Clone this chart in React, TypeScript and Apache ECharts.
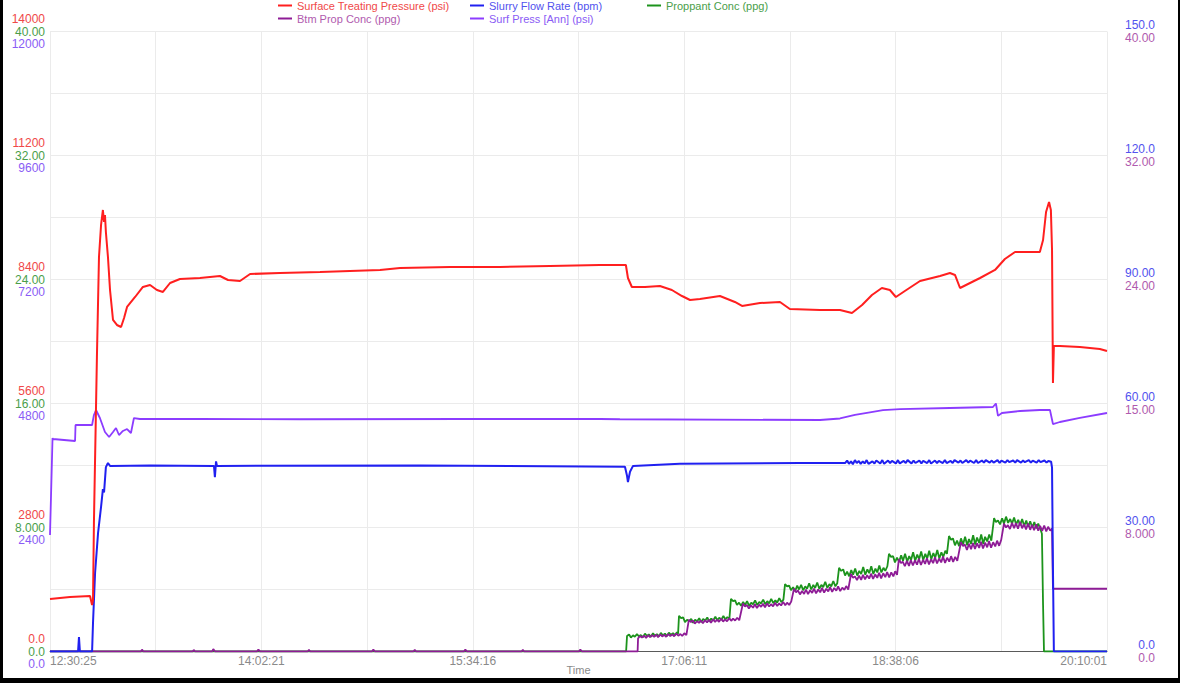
import React, { useEffect, useRef } from 'react';
import * as echarts from 'echarts';

const FONT = '"Liberation Sans", Arial, Helvetica, sans-serif';

// elapsed minutes from 12:30:25
const timeMax = 459.6;
const timeInterval = 91.92;
const timeTickLabels = ['12:30:25', '14:02:21', '15:34:16', '17:06:11', '18:38:06', '20:10:01'];

const stpTickLabels = ['0.0', '2800', '5600', '8400', '11200', '14000'];
const propTickLabels = ['0.0', '8.000', '16.00', '24.00', '32.00', '40.00'];
const annTickLabels = ['0.0', '2400', '4800', '7200', '9600', '12000'];
const rateTickLabels = ['0.0', '30.00', '60.00', '90.00', '120.0', '150.0'];
const btmTickLabels = ['0.0', '8.000', '15.00', '24.00', '32.00', '40.00'];

const seriesNames = [
  'Surface Treating Pressure (psi)',
  'Slurry Flow Rate (bpm)',
  'Proppant Conc (ppg)',
  'Btm Prop Conc (ppg)',
  'Surf Press [Ann] (psi)',
];

// Surface Treating Pressure (psi): [minutes, value]
const stpData: [number, number][] = [
  [0, 1186], [8.7, 1231], [17.4, 1253], [18.3, 1050], [18.7, 1163], [19.1, 2902], [20.4, 6650],
  [21.3, 8908], [22.2, 9631], [23.0, 9970], [23.5, 9700], [23.9, 9857], [24.3, 9473], [25.2, 8908],
  [26.1, 8163], [27.4, 7486], [29.1, 7373], [30.9, 7327], [32.2, 7531], [33.5, 7780], [37.0, 8005],
  [40.4, 8231], [43.5, 8276], [46.5, 8163], [49.1, 8118], [52.2, 8321], [56.5, 8412], [65.2, 8434],
  [73.9, 8479], [77.4, 8389], [82.6, 8366], [87.0, 8524], [100.0, 8547], [117.4, 8569], [130.4, 8592],
  [143.5, 8615], [152.2, 8660], [173.9, 8682], [195.7, 8682], [217.4, 8705], [239.1, 8727], [250.4, 8727],
  [251.3, 8434], [253.0, 8231], [258.7, 8231], [265.2, 8253], [270.4, 8163], [274.8, 8027], [278.3, 7937],
  [282.6, 7960], [291.3, 8027], [297.8, 7892], [300.9, 7802], [308.7, 7869], [317.4, 7892], [321.7, 7734],
  [334.8, 7711], [343.5, 7711], [348.7, 7644], [353.1, 7824], [357.4, 8050], [361.7, 8208], [365.2, 8163],
  [367.8, 8005], [371.7, 8140], [378.3, 8366], [387.0, 8479], [391.3, 8547], [393.5, 8502], [395.7, 8208],
  [398.3, 8276], [404.4, 8434], [410.9, 8615], [415.2, 8863], [419.6, 9021], [426.1, 9021], [430.4, 9021],
  [431.8, 9292], [433.1, 9924], [434.4, 10150], [435.2, 9970], [435.7, 9066], [436.1, 6062], [436.5, 6898],
  [439.1, 6898], [447.8, 6876], [456.5, 6831], [459.6, 6786],
];

// Slurry Flow Rate (bpm)
const rateData: [number, number][] = [
  [0, 0], [12.2, 0], [12.6, 3.5], [13.0, 0], [18.3, 0], [18.7, 6.9], [19.6, 19.0], [20.9, 28.7],
  [22.2, 35.0], [23.0, 39.3], [23.5, 38.5], [24.3, 44.6], [25.2, 45.6], [26.1, 44.9], [43.5, 45.0],
  [71.3, 44.9], [71.7, 42.2], [72.2, 46.0], [72.6, 44.9], [160.9, 45.0], [250.0, 44.7], [250.9, 42.5],
  [251.3, 41.0], [252.2, 43.5], [253.5, 44.9], [273.9, 45.4], [326.1, 45.6],
  [345.7, 45.6], [346.6, 46.2], [347.4, 45.4], [348.3, 46.0], [349.1, 45.3], [350.0, 46.3], [350.8, 45.6],
  [351.7, 46.1], [352.5, 45.4], [353.4, 46.0], [354.2, 45.5], [355.1, 46.3], [355.9, 45.4], [357.6, 46.0],
  [358.5, 45.5], [359.3, 46.2], [361.0, 45.5], [361.9, 46.3], [362.7, 45.4], [364.4, 46.2], [365.3, 45.6],
  [366.1, 46.1], [367.8, 45.5], [368.7, 46.3], [369.5, 45.5], [371.2, 46.1], [372.1, 45.6], [372.9, 46.3],
  [374.6, 45.5], [375.5, 46.2], [376.3, 45.6], [378.0, 46.2], [378.9, 45.5], [379.7, 46.1], [381.4, 45.6],
  [382.3, 46.3], [383.1, 45.5], [384.8, 46.2], [385.7, 45.6], [386.5, 46.1], [388.2, 45.6], [389.1, 46.3],
  [389.9, 45.6], [391.6, 46.1], [392.5, 45.6], [393.3, 46.3], [395.0, 45.7], [395.9, 46.2], [396.7, 45.6],
  [398.4, 46.3], [399.3, 45.7], [400.1, 46.2], [401.8, 45.6], [402.7, 46.3], [403.5, 45.6], [405.2, 46.2],
  [406.1, 45.7], [406.9, 46.3], [408.6, 45.7], [409.5, 46.2], [410.3, 45.7], [412.0, 46.3], [412.9, 45.6],
  [413.7, 46.2], [415.4, 45.7], [416.3, 46.3], [417.1, 45.8], [418.8, 46.2], [419.7, 45.7], [420.5, 46.3],
  [422.2, 45.7], [423.1, 46.2], [423.9, 45.8], [425.6, 46.3], [426.5, 45.7], [427.3, 46.2], [429.0, 45.7],
  [429.9, 46.3], [430.7, 45.8], [432.4, 46.2], [433.3, 45.7], [434.1, 46.1], [435.3, 45.9], [435.7, 44.5],
  [436.1, 20], [436.5, 0], [459.6, 0],
];

// Proppant Conc (ppg)
const propData: [number, number][] = [
  [0, 0], [250.5, 0],
  [250.9, 1.0], [251.8, 1.1], [252.6, 0.9], [253.5, 1.05], [254.3, 0.95], [255.2, 1.12], [256.1, 0.98],
  [256.9, 1.06], [257.8, 0.92], [258.7, 1.15], [259.6, 1.0], [260.4, 1.1], [261.3, 0.95], [262.2, 1.18],
  [263.0, 1.02], [263.9, 1.12], [264.8, 0.98], [265.6, 1.2], [266.5, 1.05], [267.4, 1.15], [268.3, 1.0],
  [269.1, 1.22], [270.0, 1.08], [270.9, 1.18], [271.7, 1.05], [272.6, 1.25], [273.1, 1.15],
  [273.5, 2.3], [274.4, 2.15], [275.3, 2.2], [276.1, 1.9], [277.0, 2.05], [277.9, 1.95], [278.8, 2.1],
  [279.6, 1.85], [280.5, 2.05], [281.4, 1.95], [282.3, 2.15], [283.1, 1.9], [284.0, 2.1], [284.9, 2.0],
  [285.8, 2.2], [286.6, 1.95], [287.5, 2.12], [288.4, 2.0], [289.3, 2.25], [290.1, 2.02], [291.0, 2.18],
  [291.9, 2.05], [292.8, 2.3], [293.6, 2.08], [294.5, 2.22], [295.4, 2.1],
  [296.1, 3.4], [297.0, 3.25], [297.9, 3.3], [298.7, 3.0], [299.6, 3.15], [300.5, 2.95], [301.4, 3.2],
  [302.2, 3.0], [303.1, 3.25], [304.0, 2.95], [304.9, 3.15], [305.7, 3.05], [306.6, 3.3], [307.5, 3.0],
  [308.4, 3.2], [309.2, 3.1], [310.1, 3.35], [311.0, 3.05], [311.9, 3.25], [312.7, 3.1], [313.6, 3.4],
  [314.5, 3.12], [315.4, 3.3], [316.2, 3.15], [317.1, 3.45], [318.0, 3.18], [318.9, 3.35],
  [319.6, 4.35], [320.5, 4.2], [321.4, 4.25], [322.2, 3.95], [323.1, 4.15], [324.0, 3.9], [324.9, 4.25],
  [325.7, 4.0], [326.6, 4.3], [327.5, 3.95], [328.4, 4.2], [329.2, 4.05], [330.1, 4.4], [331.0, 4.0],
  [331.9, 4.3], [332.7, 4.1], [333.6, 4.45], [334.5, 4.05], [335.4, 4.3], [336.2, 4.15], [337.1, 4.5],
  [338.0, 4.1], [338.9, 4.35], [339.7, 4.2], [340.6, 4.55], [341.5, 4.2], [342.3, 4.4],
  [343.1, 5.4], [344.0, 5.2], [344.9, 5.3], [345.7, 4.9], [346.6, 5.15], [347.5, 4.85], [348.4, 5.25],
  [349.2, 4.95], [350.1, 5.35], [351.0, 4.9], [351.9, 5.2], [352.7, 5.0], [353.6, 5.45], [354.5, 4.95],
  [355.4, 5.3], [356.2, 5.05], [357.1, 5.5], [358.0, 5.0], [358.9, 5.35], [359.7, 5.1], [360.6, 5.55],
  [361.5, 5.1], [362.4, 5.4], [363.2, 5.2], [364.1, 5.5],
  [364.8, 6.3], [365.7, 6.1], [366.6, 6.15], [367.4, 5.75], [368.3, 6.05], [369.2, 5.8], [370.1, 6.2],
  [370.9, 5.85], [371.8, 6.3], [372.7, 5.8], [373.6, 6.15], [374.4, 5.9], [375.3, 6.4], [376.2, 5.85],
  [377.1, 6.25], [377.9, 5.95], [378.8, 6.45], [379.7, 5.9], [380.6, 6.3], [381.4, 6.0], [382.3, 6.5],
  [383.2, 5.95], [384.1, 6.35], [384.9, 6.05], [385.8, 6.55], [386.7, 6.0], [387.6, 6.4], [388.4, 6.1],
  [389.3, 6.5], [390.0, 6.3],
  [390.9, 7.45], [391.8, 7.2], [392.6, 7.3], [393.5, 6.85], [394.4, 7.15], [395.3, 6.8], [396.1, 7.3],
  [397.0, 6.9], [397.9, 7.4], [398.8, 6.85], [399.6, 7.25], [400.5, 6.95], [401.4, 7.5], [402.3, 6.9],
  [403.1, 7.35], [404.0, 7.0], [404.9, 7.55], [405.8, 6.95], [406.6, 7.4], [407.5, 7.1], [408.4, 7.55],
  [409.3, 7.15],
  [410.5, 8.6], [411.3, 8.35], [412.2, 8.45], [413.1, 8.2], [414.0, 8.6], [414.8, 8.25], [415.7, 8.7],
  [416.6, 8.3], [417.5, 8.55], [418.3, 8.25], [419.2, 8.65], [420.1, 8.2], [421.0, 8.5], [421.8, 8.15],
  [422.7, 8.55], [423.6, 8.1], [424.5, 8.45], [425.3, 8.05], [426.2, 8.4], [427.1, 8.0], [428.0, 8.35],
  [428.8, 7.95], [429.7, 8.25], [430.6, 7.9], [431.3, 7.6], [431.8, 3.0], [432.2, 0], [459.6, 0],
];

// Btm Prop Conc (ppg)
const btmData: [number, number][] = [
  [0, 0], [39.5, 0], [40.0, 0.12], [40.6, 0], [62.0, 0], [62.5, 0.1], [63.1, 0], [70.5, 0], [71.0, 0.15],
  [71.8, 0], [90.0, 0], [90.6, 0.12], [91.4, 0], [112.0, 0], [112.6, 0.1], [113.2, 0], [140.0, 0],
  [140.6, 0.12], [141.3, 0], [158.0, 0], [158.6, 0.1], [159.2, 0], [180.0, 0], [180.6, 0.12], [181.3, 0],
  [205.0, 0], [205.6, 0.1], [206.2, 0], [230.0, 0], [230.6, 0.12], [231.3, 0], [255.5, 0],
  [255.7, 0.85], [256.6, 1.0], [257.4, 0.9], [258.3, 1.02], [259.2, 0.88], [260.1, 1.05], [260.9, 0.92],
  [261.8, 1.06], [262.7, 0.95], [263.6, 1.08], [264.4, 0.93], [265.3, 1.1], [266.2, 0.97], [267.1, 1.08],
  [267.9, 0.95], [268.8, 1.12], [269.7, 1.0], [270.6, 1.1], [271.4, 0.98], [272.3, 1.15], [273.2, 1.02],
  [274.1, 1.13], [274.9, 1.0], [275.8, 1.18], [276.7, 1.06],
  [277.8, 2.05], [278.7, 1.9], [279.5, 2.0], [280.4, 1.8], [281.3, 1.95], [282.2, 1.85], [283.0, 2.0],
  [283.9, 1.82], [284.8, 2.02], [285.7, 1.88], [286.5, 2.05], [287.4, 1.85], [288.3, 2.08], [289.2, 1.9],
  [290.0, 2.05], [290.9, 1.92], [291.8, 2.12], [292.7, 1.93], [293.5, 2.08], [294.4, 1.95], [295.3, 2.15],
  [296.2, 1.98], [297.0, 2.12], [297.9, 2.0], [298.8, 2.18], [299.7, 2.02],
  [301.3, 3.1], [302.2, 2.9], [303.0, 3.0], [303.9, 2.78], [304.8, 2.98], [305.7, 2.82], [306.5, 3.05],
  [307.4, 2.8], [308.3, 3.02], [309.2, 2.88], [310.0, 3.08], [310.9, 2.85], [311.8, 3.1], [312.7, 2.9],
  [313.5, 3.05], [314.4, 2.92], [315.3, 3.15], [316.2, 2.93], [317.0, 3.1], [317.9, 2.97], [318.8, 3.2],
  [319.7, 2.98], [320.5, 3.15], [321.4, 3.0], [322.3, 3.22],
  [323.5, 4.05], [324.4, 3.82], [325.2, 3.95], [326.1, 3.68], [327.0, 3.9], [327.9, 3.72], [328.7, 4.0],
  [329.6, 3.7], [330.5, 3.95], [331.4, 3.78], [332.2, 4.05], [333.1, 3.75], [334.0, 4.0], [334.9, 3.82],
  [335.7, 4.1], [336.6, 3.8], [337.5, 4.05], [338.4, 3.88], [339.2, 4.15], [340.1, 3.85], [341.0, 4.1],
  [341.9, 3.92], [342.7, 4.2], [343.6, 3.9], [344.5, 4.12], [345.4, 3.98], [346.2, 4.22], [347.1, 4.0],
  [348.3, 5.0], [349.2, 4.75], [350.0, 4.85], [350.9, 4.6], [351.8, 4.9], [352.7, 4.62], [353.5, 4.95],
  [354.4, 4.65], [355.3, 4.92], [356.2, 4.7], [357.0, 5.02], [357.9, 4.68], [358.8, 4.98], [359.7, 4.75],
  [360.5, 5.08], [361.4, 4.72], [362.3, 5.05], [363.2, 4.8], [364.0, 5.12], [364.9, 4.78], [365.8, 5.1],
  [366.7, 4.85], [367.5, 5.18], [368.3, 4.95],
  [369.1, 5.95], [370.0, 5.7], [370.8, 5.8], [371.7, 5.5], [372.6, 5.85], [373.5, 5.52], [374.3, 5.9],
  [375.2, 5.55], [376.1, 5.88], [377.0, 5.6], [377.8, 5.98], [378.7, 5.58], [379.6, 5.92], [380.5, 5.65],
  [381.3, 6.02], [382.2, 5.62], [383.1, 5.95], [384.0, 5.7], [384.8, 6.08], [385.7, 5.68], [386.6, 6.0],
  [387.5, 5.75], [388.3, 6.12], [389.2, 5.72], [390.1, 6.05], [391.0, 5.8], [391.8, 6.15], [392.7, 5.78],
  [393.6, 6.1], [394.5, 5.85],
  [396.1, 7.05], [397.0, 6.8], [397.8, 6.9], [398.7, 6.55], [399.6, 6.95], [400.5, 6.6], [401.3, 7.0],
  [402.2, 6.62], [403.1, 6.98], [404.0, 6.68], [404.8, 7.08], [405.7, 6.65], [406.6, 7.02], [407.5, 6.72],
  [408.3, 7.12], [409.2, 6.7], [410.1, 7.05], [411.0, 6.78], [411.8, 7.15], [412.7, 6.82], [413.6, 7.2],
  [414.8, 8.25], [415.7, 8.0], [416.5, 8.15], [417.4, 7.9], [418.3, 8.3], [419.2, 7.95], [420.0, 8.28],
  [420.9, 7.92], [421.8, 8.35], [422.7, 7.95], [423.5, 8.22], [424.4, 7.88], [425.3, 8.25], [426.2, 7.85],
  [427.0, 8.18], [427.9, 7.82], [428.8, 8.2], [429.7, 7.8], [430.5, 8.1], [431.4, 7.78], [432.3, 8.12],
  [433.2, 7.75], [434.0, 8.05], [434.9, 7.8], [435.7, 7.95], [436.1, 4.05], [459.6, 4.05],
];

// Surf Press [Ann] (psi)
const annData: [number, number][] = [
  [0, 2255], [1.1, 4132], [1.3, 4113], [10.9, 4074], [11.1, 4384], [18.3, 4384], [19.1, 4577], [20.0, 4674],
  [21.7, 4519], [23.9, 4248], [25.7, 4152], [27.4, 4248], [28.7, 4326], [30.0, 4190], [31.7, 4268],
  [33.5, 4306], [35.2, 4229], [36.5, 4519], [39.1, 4500], [65.2, 4500], [108.7, 4495], [180.0, 4500],
  [239.1, 4500], [247.8, 4495], [334.8, 4481], [343.5, 4510], [350.0, 4580], [356.5, 4630], [362.2, 4670],
  [369.6, 4690], [391.3, 4713], [410.0, 4732], [411.3, 4800], [412.2, 4560], [413.9, 4616], [421.8, 4655],
  [430.4, 4674], [434.8, 4674], [436.1, 4403], [439.1, 4442], [447.8, 4520], [459.6, 4616],
];

const C = {
  stp: '#ff1f1f', stpText: '#f04848',
  rate: '#2020f0', rateText: '#5252ee',
  prop: '#1c931c', propText: '#4a9e4a',
  btm: '#8e1c96', btmText: '#b05aae',
  ann: '#8c3cff', annText: '#8a5cf5',
};

function yAxisDef(max: number, labels: string[], color: string, side: 'left' | 'right', shift: number, grid = false) {
  const interval = max / 5;
  const valign = shift < 0 ? 'bottom' : shift > 0 ? 'top' : 'middle';
  const lh = shift === 0 ? 14 : Math.abs(shift) * 2;
  return {
    type: 'value',
    position: side,
    min: 0,
    max,
    interval,
    axisLine: { show: false },
    axisTick: { show: false },
    splitLine: { show: grid, lineStyle: { color: '#ebebeb', width: 1 } },
    minorTick: { show: false, splitNumber: 2 },
    minorSplitLine: { show: grid, lineStyle: { color: '#ebebeb', width: 1 } },
    axisLabel: {
      color,
      fontSize: 12,
      fontFamily: FONT,
      margin: side === 'left' ? 5 : 48,
      align: 'right',
      verticalAlign: valign,
      lineHeight: lh,
      formatter: (v: number) => labels[Math.round(v / interval)] ?? '',
    },
  };
}

function legendDef(name: string, left: number, top: number, color: string) {
  return {
    data: [name],
    left,
    top,
    padding: 0,
    icon: 'rect',
    itemWidth: 14,
    itemHeight: 2,
    selectedMode: false,
    textStyle: { color, fontSize: 11, fontFamily: FONT },
  };
}

export default function App() {
  const ref = useRef<HTMLDivElement>(null);
  useEffect(() => {
    const chart = echarts.init(ref.current!, null, { renderer: 'svg' });
    const lineSeries = (name: string, data: [number, number][], yAxisIndex: number, color: string, width: number) => ({
      name,
      type: 'line',
      data,
      yAxisIndex,
      showSymbol: false,
      symbol: 'none',
      smooth: false,
      lineStyle: { color, width },
      itemStyle: { color },
    });
    chart.setOption({
      animation: false,
      backgroundColor: '#ffffff',
      grid: { left: 50, right: 73, top: 31.5, bottom: 31.5, outerBoundsMode: 'none' },
      legend: [
        legendDef(seriesNames[0], 278, 0, C.stpText),
        legendDef(seriesNames[1], 470, 0, C.rateText),
        legendDef(seriesNames[2], 647, 0, C.propText),
        legendDef(seriesNames[3], 278, 13, C.btmText),
        legendDef(seriesNames[4], 470, 13, C.annText),
      ],
      xAxis: {
        type: 'value',
        min: 0,
        max: timeMax,
        interval: timeInterval,
        name: 'Time',
        nameLocation: 'middle',
        nameGap: 13,
        nameMoveOverlap: false,
        nameTextStyle: { color: '#8a8a8a', fontSize: 11, fontFamily: FONT },
        axisLine: { show: true, lineStyle: { color: '#5a5a5a', width: 1 } },
        axisTick: { show: false },
        splitLine: { show: true, lineStyle: { color: '#ebebeb', width: 1 } },
        minorTick: { show: false, splitNumber: 2 },
        minorSplitLine: { show: true, lineStyle: { color: '#ebebeb', width: 1 } },
        axisLabel: {
          color: '#8a8a8a',
          fontSize: 12,
          fontFamily: FONT,
          margin: 3,
          alignMinLabel: 'left',
          alignMaxLabel: 'right',
          formatter: (v: number) => timeTickLabels[Math.round(v / timeInterval)] ?? '',
        },
      },
      yAxis: [
        yAxisDef(14000, stpTickLabels, C.stpText, 'left', -12.5),
        yAxisDef(40, propTickLabels, C.propText, 'left', 0, true),
        yAxisDef(12000, annTickLabels, C.annText, 'left', 12.5),
        yAxisDef(150, rateTickLabels, C.rateText, 'right', -6.5),
        yAxisDef(40, btmTickLabels, C.btmText, 'right', 6.5),
      ],
      series: [
        lineSeries(seriesNames[2], propData, 1, C.prop, 1.8),
        lineSeries(seriesNames[3], btmData, 4, C.btm, 1.8),
        lineSeries(seriesNames[4], annData, 2, C.ann, 1.8),
        lineSeries(seriesNames[1], rateData, 3, C.rate, 2),
        lineSeries(seriesNames[0], stpData, 0, C.stp, 2),
      ],
      graphic: [
        { type: 'rect', left: 0, top: 0, shape: { width: 3, height: 683 }, style: { fill: '#000' } },
        { type: 'rect', left: 0, top: 678, shape: { width: 1180, height: 5 }, style: { fill: '#000' } },
        { type: 'rect', left: 1178, top: 0, shape: { width: 2, height: 683 }, style: { fill: '#000' } },
      ],
    });
    return () => chart.dispose();
  }, []);
  return (
    <div
      ref={ref}
      style={{ position: 'fixed', left: 0, top: 0, width: 1180, height: 683, background: '#fff' }}
    />
  );
}
